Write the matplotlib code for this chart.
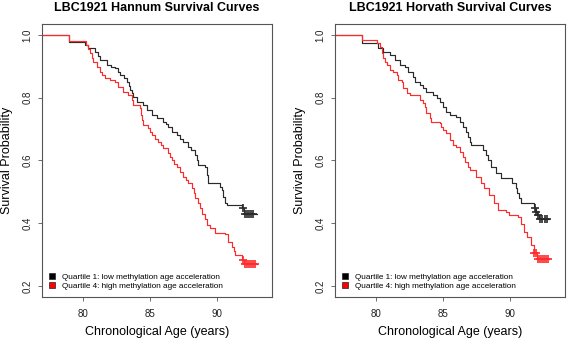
import numpy as np
import matplotlib
matplotlib.use('Agg')
import matplotlib.pyplot as plt
from matplotlib.patches import Patch

plt.rcParams['font.family'] = ['Liberation Sans', 'DejaVu Sans']

start_age = 76.95

# Hannum, quartile 1 (black): age at each drop, survival after the drop
han_q1_age = [78.96, 80.15, 80.40, 80.90, 81.10, 81.27, 81.77, 82.10, 82.39, 82.60,
              82.76, 83.05, 83.26, 83.40, 83.51, 83.65, 83.76, 84.01, 84.50, 84.80,
              85.12, 85.50, 85.99, 86.20, 86.37, 86.62, 86.99, 87.25, 87.49, 87.86,
              88.06, 88.36, 88.50, 88.60, 89.10, 89.22, 89.35, 90.22, 90.35, 90.47,
              90.60, 90.72, 91.84, 92.00]
han_q1_surv = [0.977, 0.968, 0.960, 0.947, 0.933, 0.920, 0.904, 0.899, 0.894, 0.883,
               0.872, 0.862, 0.851, 0.838, 0.825, 0.814, 0.803, 0.787, 0.777, 0.760,
               0.745, 0.734, 0.724, 0.716, 0.708, 0.692, 0.681, 0.670, 0.660, 0.644,
               0.633, 0.617, 0.601, 0.585, 0.580, 0.553, 0.527, 0.516, 0.506, 0.485,
               0.463, 0.458, 0.447, 0.428]
han_q1_end = 92.96
han_q1_cens = [91.90, 92.10, 92.25, 92.40, 92.55, 92.70]

# Hannum, quartile 4 (red)
han_q4_age = [78.96, 80.22, 80.40, 80.52, 80.65, 80.77, 81.02, 81.27, 81.45, 81.64,
              82.01, 82.39, 82.63, 83.01, 83.38, 83.63, 83.76, 84.25, 84.30, 84.37,
              84.50, 84.87, 85.00, 85.12, 85.37, 85.62, 85.80, 85.99, 86.37, 86.50,
              86.62, 86.80, 86.99, 87.24, 87.49, 87.70, 87.86, 88.11, 88.25, 88.36,
              88.55, 88.73, 88.90, 89.10, 89.25, 89.48, 89.85, 90.60, 90.84, 91.10,
              91.22, 91.34, 91.84, 92.00]
han_q4_surv = [0.982, 0.968, 0.955, 0.942, 0.928, 0.915, 0.899, 0.883, 0.872, 0.862,
               0.856, 0.851, 0.835, 0.819, 0.809, 0.793, 0.777, 0.766, 0.745, 0.729,
               0.713, 0.702, 0.692, 0.681, 0.670, 0.660, 0.649, 0.639, 0.623, 0.612,
               0.601, 0.590, 0.580, 0.564, 0.548, 0.538, 0.527, 0.511, 0.495, 0.479,
               0.463, 0.447, 0.431, 0.415, 0.394, 0.384, 0.370, 0.367, 0.341, 0.325,
               0.310, 0.298, 0.282, 0.270]
han_q4_end = 92.96
han_q4_cens = [91.95, 92.10, 92.25, 92.40, 92.55, 92.70, 92.85]

# Horvath, quartile 1 (black)
hor_q1_age = [78.94, 80.17, 80.54, 81.04, 81.41, 81.78, 82.15, 82.40, 82.77, 82.89,
              83.26, 83.51, 83.75, 84.25, 84.50, 84.74, 84.99, 85.24, 85.48, 85.98,
              86.22, 86.47, 86.72, 86.85, 86.97, 87.09, 87.95, 88.20, 88.35, 88.54,
              88.91, 89.28, 90.15, 90.40, 90.52, 90.64, 90.77, 91.76, 91.90, 92.00,
              92.15]
hor_q1_surv = [0.973, 0.957, 0.947, 0.936, 0.920, 0.904, 0.899, 0.883, 0.867, 0.851,
               0.841, 0.830, 0.819, 0.809, 0.798, 0.787, 0.771, 0.755, 0.745, 0.739,
               0.723, 0.708, 0.692, 0.676, 0.660, 0.649, 0.633, 0.617, 0.601, 0.580,
               0.559, 0.543, 0.527, 0.511, 0.495, 0.479, 0.463, 0.447, 0.436, 0.426,
               0.415]
hor_q1_end = 92.87
hor_q1_cens = [91.85, 91.95, 92.05, 92.25, 92.40, 92.55, 92.70]

# Horvath, quartile 4 (red)
hor_q4_age = [78.94, 80.05, 80.30, 80.42, 80.54, 80.67, 80.79, 81.04, 81.28, 81.53,
              81.65, 81.90, 82.02, 82.27, 82.52, 83.26, 83.51, 83.63, 83.75, 84.00,
              84.12, 84.74, 84.87, 84.99, 85.24, 85.48, 85.73, 85.98, 86.22, 86.47,
              86.59, 86.84, 86.96, 87.46, 87.83, 88.07, 88.44, 88.81, 89.06, 89.68,
              89.93, 90.54, 90.79, 91.04, 91.28, 91.53, 91.78, 92.00]
hor_q4_surv = [0.984, 0.973, 0.963, 0.941, 0.926, 0.915, 0.904, 0.888, 0.883, 0.872,
               0.856, 0.851, 0.830, 0.814, 0.809, 0.793, 0.782, 0.771, 0.750, 0.734,
               0.723, 0.718, 0.708, 0.697, 0.686, 0.665, 0.649, 0.644, 0.628, 0.612,
               0.596, 0.580, 0.569, 0.548, 0.527, 0.511, 0.490, 0.463, 0.442, 0.436,
               0.426, 0.420, 0.399, 0.373, 0.357, 0.330, 0.304, 0.287]
hor_q4_end = 92.89
hor_q4_cens = [91.80, 91.92, 92.05, 92.20, 92.35, 92.50, 92.65, 92.80]

titles = ['LBC1921 Hannum Survival Curves', 'LBC1921 Horvath Survival Curves']
labels = ['Quartile 1: low methylation age acceleration',
          'Quartile 4: high methylation age acceleration']
colors = ['black', '#ff0000']
line_colors = ['#2a2a2a', '#ff2a2a']
xticks = [80, 85, 90]
yticks = [0.2, 0.4, 0.6, 0.8, 1.0]

panels = [
    [(han_q1_age, han_q1_surv, han_q1_end, han_q1_cens),
     (han_q4_age, han_q4_surv, han_q4_end, han_q4_cens)],
    [(hor_q1_age, hor_q1_surv, hor_q1_end, hor_q1_cens),
     (hor_q4_age, hor_q4_surv, hor_q4_end, hor_q4_cens)],
]


def draw_km(ax, age, surv, end, cens, color):
    x = np.r_[start_age, age, end]
    y = np.r_[1.0, surv, surv[-1]]
    ax.step(x, y, where='post', color=color, lw=0.85)
    # censoring marks sit on the curve
    idx = np.searchsorted(x, cens, side='right') - 1
    ax.plot(cens, y[idx], '+', color=color, ms=6, mew=1.2, ls='none')


fig = plt.figure(figsize=(5.67, 3.4), dpi=100)
lefts = [0.074, 0.591]
for i in range(2):
    ax = fig.add_axes([lefts[i], 0.1265, 0.406, 0.803])
    for g in range(2):
        age, surv, end, cens = panels[i][g]
        draw_km(ax, age, surv, end, cens, line_colors[g])
    ax.set_xlim(76.94, 94.1)
    ax.set_ylim(0.165, 1.035)
    ax.set_xticks(xticks)
    ax.set_yticks(yticks)
    ax.set_yticklabels([f'{v:.1f}' for v in yticks])
    for s in ax.spines.values():
        s.set_color('#555555')
        s.set_linewidth(0.8)
    ax.tick_params(direction='out', length=3, width=0.6, color='#555555',
                   labelsize=7, labelcolor='#222222')
    ax.tick_params(axis='x', pad=6)
    ax.tick_params(axis='y', pad=4, labelrotation=90)
    for lbl in ax.get_yticklabels():
        lbl.set_va('center')
    ax.set_title(titles[i], fontsize=9, fontweight='bold', pad=9.5)
    ax.set_xlabel('Chronological Age (years)', fontsize=9)
    ax.xaxis.set_label_coords(0.5, -0.105)
    ax.set_ylabel('Survival Probability', fontsize=9)
    ax.yaxis.set_label_coords(-0.126, 0.5)
    handles = [Patch(facecolor=c, edgecolor='#222222', lw=0.5) for c in colors]
    ax.legend(handles, labels, loc='lower left', bbox_to_anchor=(0.03, 0.025),
              frameon=False, fontsize=5.9, handlelength=0.7, handleheight=0.8,
              handletextpad=0.9, labelspacing=0.2, borderpad=0, borderaxespad=0)

plt.savefig('out.png', dpi=100)
